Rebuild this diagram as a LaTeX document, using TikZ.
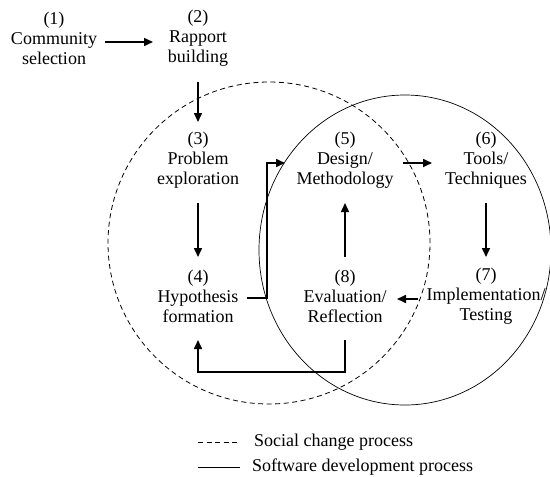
\documentclass[tikz,border=0pt]{standalone}
\usepackage{fontspec}
\setmainfont{Liberation Serif}
\usetikzlibrary{arrows.meta,calc}
\begin{document}
\begin{tikzpicture}[x=1pt,y=-1pt,
  lbl/.style={align=center,font=\fontsize{18}{20}\selectfont,inner sep=0pt},
  legtxt/.style={anchor=west,font=\fontsize{18}{20}\selectfont,inner sep=0pt},
  flow/.style={line width=1.6pt,-{Triangle[length=9pt,width=8pt]}},
  flowplain/.style={line width=1.6pt},
  ring/.style={line width=0.7pt},
  dashring/.style={line width=0.8pt,dash pattern=on 5pt off 3.5pt}]
\useasboundingbox (0,0) rectangle (550,477);
% process circles
\draw[dashring] (269,243) circle [radius=161pt];
\draw[ring] (405,250) ellipse [x radius=146pt, y radius=155pt];
% nodes
\node[lbl] (n1) at (54,38) {(1)\\Community\\selection};
\node[lbl] (n2) at (198,38) {(2)\\Rapport\\building};
\node[lbl] (n3) at (198,160) {(3)\\Problem\\exploration};
\node[lbl] (n4) at (198,296) {(4)\\Hypothesis\\formation};
\node[lbl] (n5) at (345,160) {(5)\\Design/\\Methodology};
\node[lbl] (n6) at (486,160) {(6)\\Tools/\\Techniques};
\node[lbl] (n7) at (486,296) {(7)\\Implementation/\\Testing};
\node[lbl] (n8) at (345,296) {(8)\\Evaluation/\\Reflection};
% connectors
\draw[flow] ($(n1)+(51,4)$) -- ($(n2)+(-45,4)$);
\draw[flow] ($(n2)+(0,44)$) -- ($(n3)+(0,-38)$);
\draw[flow] ($(n3)+(0,43)$) -- ($(n4)+(0,-39)$);
\draw[flow] ($(n4)+(49,2)$) -- ++(20,0) |- ($(n5)+(-60,3)$);
\draw[flow] ($(n5)+(58,3)$) -- ($(n6)+(-54,3)$);
\draw[flow] ($(n6)+(0,43)$) -- ($(n7)+(0,-39)$);
\draw[flow] ($(n8)+(0,-39)$) -- ($(n5)+(0,43)$);
\draw[flow] ($(n7)+(-68,3)$) -- ($(n8)+(52,3)$);
\draw[flow] ($(n8)+(0,44)$) -- ++(0,32) -| ($(n4)+(0,44)$);
% legend
\coordinate (d1) at (198,442);
\coordinate (d2) at (240,442);
\coordinate (s1) at (198,467);
\coordinate (s2) at (240,467);
\draw[dashring] (d1) -- (d2);
\draw[ring] (s1) -- (s2);
\node[legtxt] (l1) at (254,442) {Social change process};
\node[legtxt] (l2) at (252,467) {Software development process};
\end{tikzpicture}
\end{document}
